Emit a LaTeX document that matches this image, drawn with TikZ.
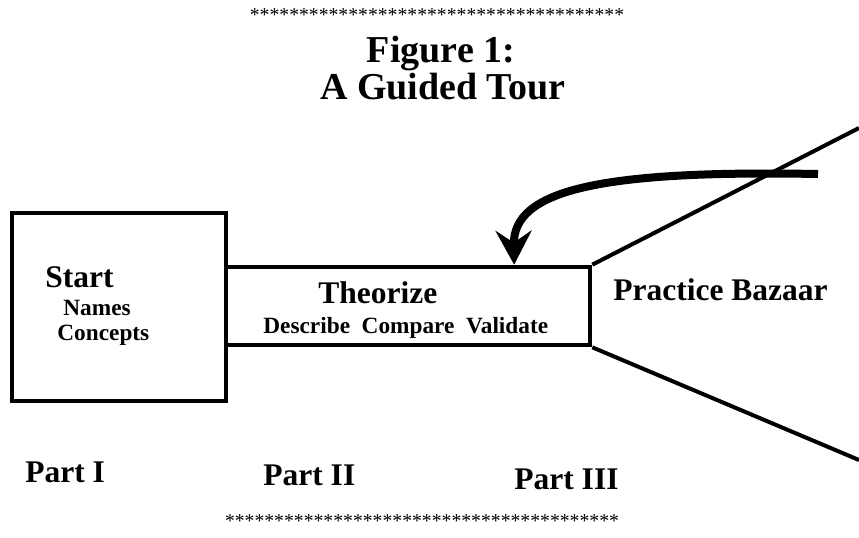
\documentclass[tikz,border=0pt]{standalone}
\usepackage{fontspec}
\setmainfont{Liberation Serif}
\usepackage{tikz}
\usetikzlibrary{arrows.meta,positioning,calc}
\definecolor{inkblack}{HTML}{000000}
\newcommand{\bigfont}{\fontsize{15.75}{18}\selectfont\bfseries}
\newcommand{\smallfont}{\fontsize{11.65}{14}\selectfont\bfseries}

\begin{document}
\begin{tikzpicture}[
    x=0.5pt, y=-0.5pt,
    box/.style   = {rectangle, draw=inkblack, line width=2.3pt, inner sep=0pt},
    biglbl/.style = {anchor=base west, inner sep=0pt, font=\bigfont},
    smalllbl/.style = {anchor=base west, inner sep=0pt, font=\smallfont},
    stars/.style = {anchor=base, inner sep=0pt, font=\fontsize{9.85}{11}\selectfont},
    titlelbl/.style = {anchor=base, inner sep=0pt, font=\fontsize{19}{22}\selectfont\bfseries},
    fan/.style   = {draw=inkblack, line width=2pt},
    loop/.style  = {-{Stealth[length=17pt, width=18pt, inset=6pt]}, line width=4pt, inkblack},
]
  \useasboundingbox (0,0) rectangle (859,537);

  % Title
  \node[stars] (starstop) at (437,21) {**************************************};
  \node[titlelbl] (figno)    at (441,62) {Figure 1:};
  \node[titlelbl] (figtitle) at (443,99) {A Guided Tour};

  % Boxes
  \node[box, minimum width=107pt, minimum height=94pt] (start) at (119,307) {};
  \node[box, minimum width=182pt, minimum height=39pt] (theo) at (408,306) {};

  \node[biglbl]   (startlbl) at (45,287)  {Start};
  \node[smalllbl] (names)    at (63,315)  {Names};
  \node[smalllbl] (concepts) at (57,340)  {Concepts};
  \node[biglbl]   (theolbl)  at (318,303) {Theorize};
  \node[smalllbl] (theosub)  at (263,333) {Describe~~Compare~~Validate};
  \node[biglbl]   (bazaar)   at (613,300) {Practice Bazaar};

  % Fan out to the bazaar
  \coordinate (fantop) at (859,128);
  \coordinate (fanbot) at (859,460);
  \draw[fan] (theo.north east) -- (fantop);
  \draw[fan] (theo.south east) -- (fanbot);

  % Feedback loop
  \coordinate (loopstart) at (818,174);
  \draw[loop] (loopstart) .. controls (600,170) and (513,190)
      .. ($(theo.north west)!0.788!(theo.north east)$);

  % Parts
  \node[biglbl] (part1) at (25,482)  {Part I};
  \node[biglbl] (part2) at (263,485) {Part II};
  \node[biglbl] (part3) at (514,489) {Part III};
  \node[stars] (starsbot) at (422,527) {****************************************};

\end{tikzpicture}
\end{document}
